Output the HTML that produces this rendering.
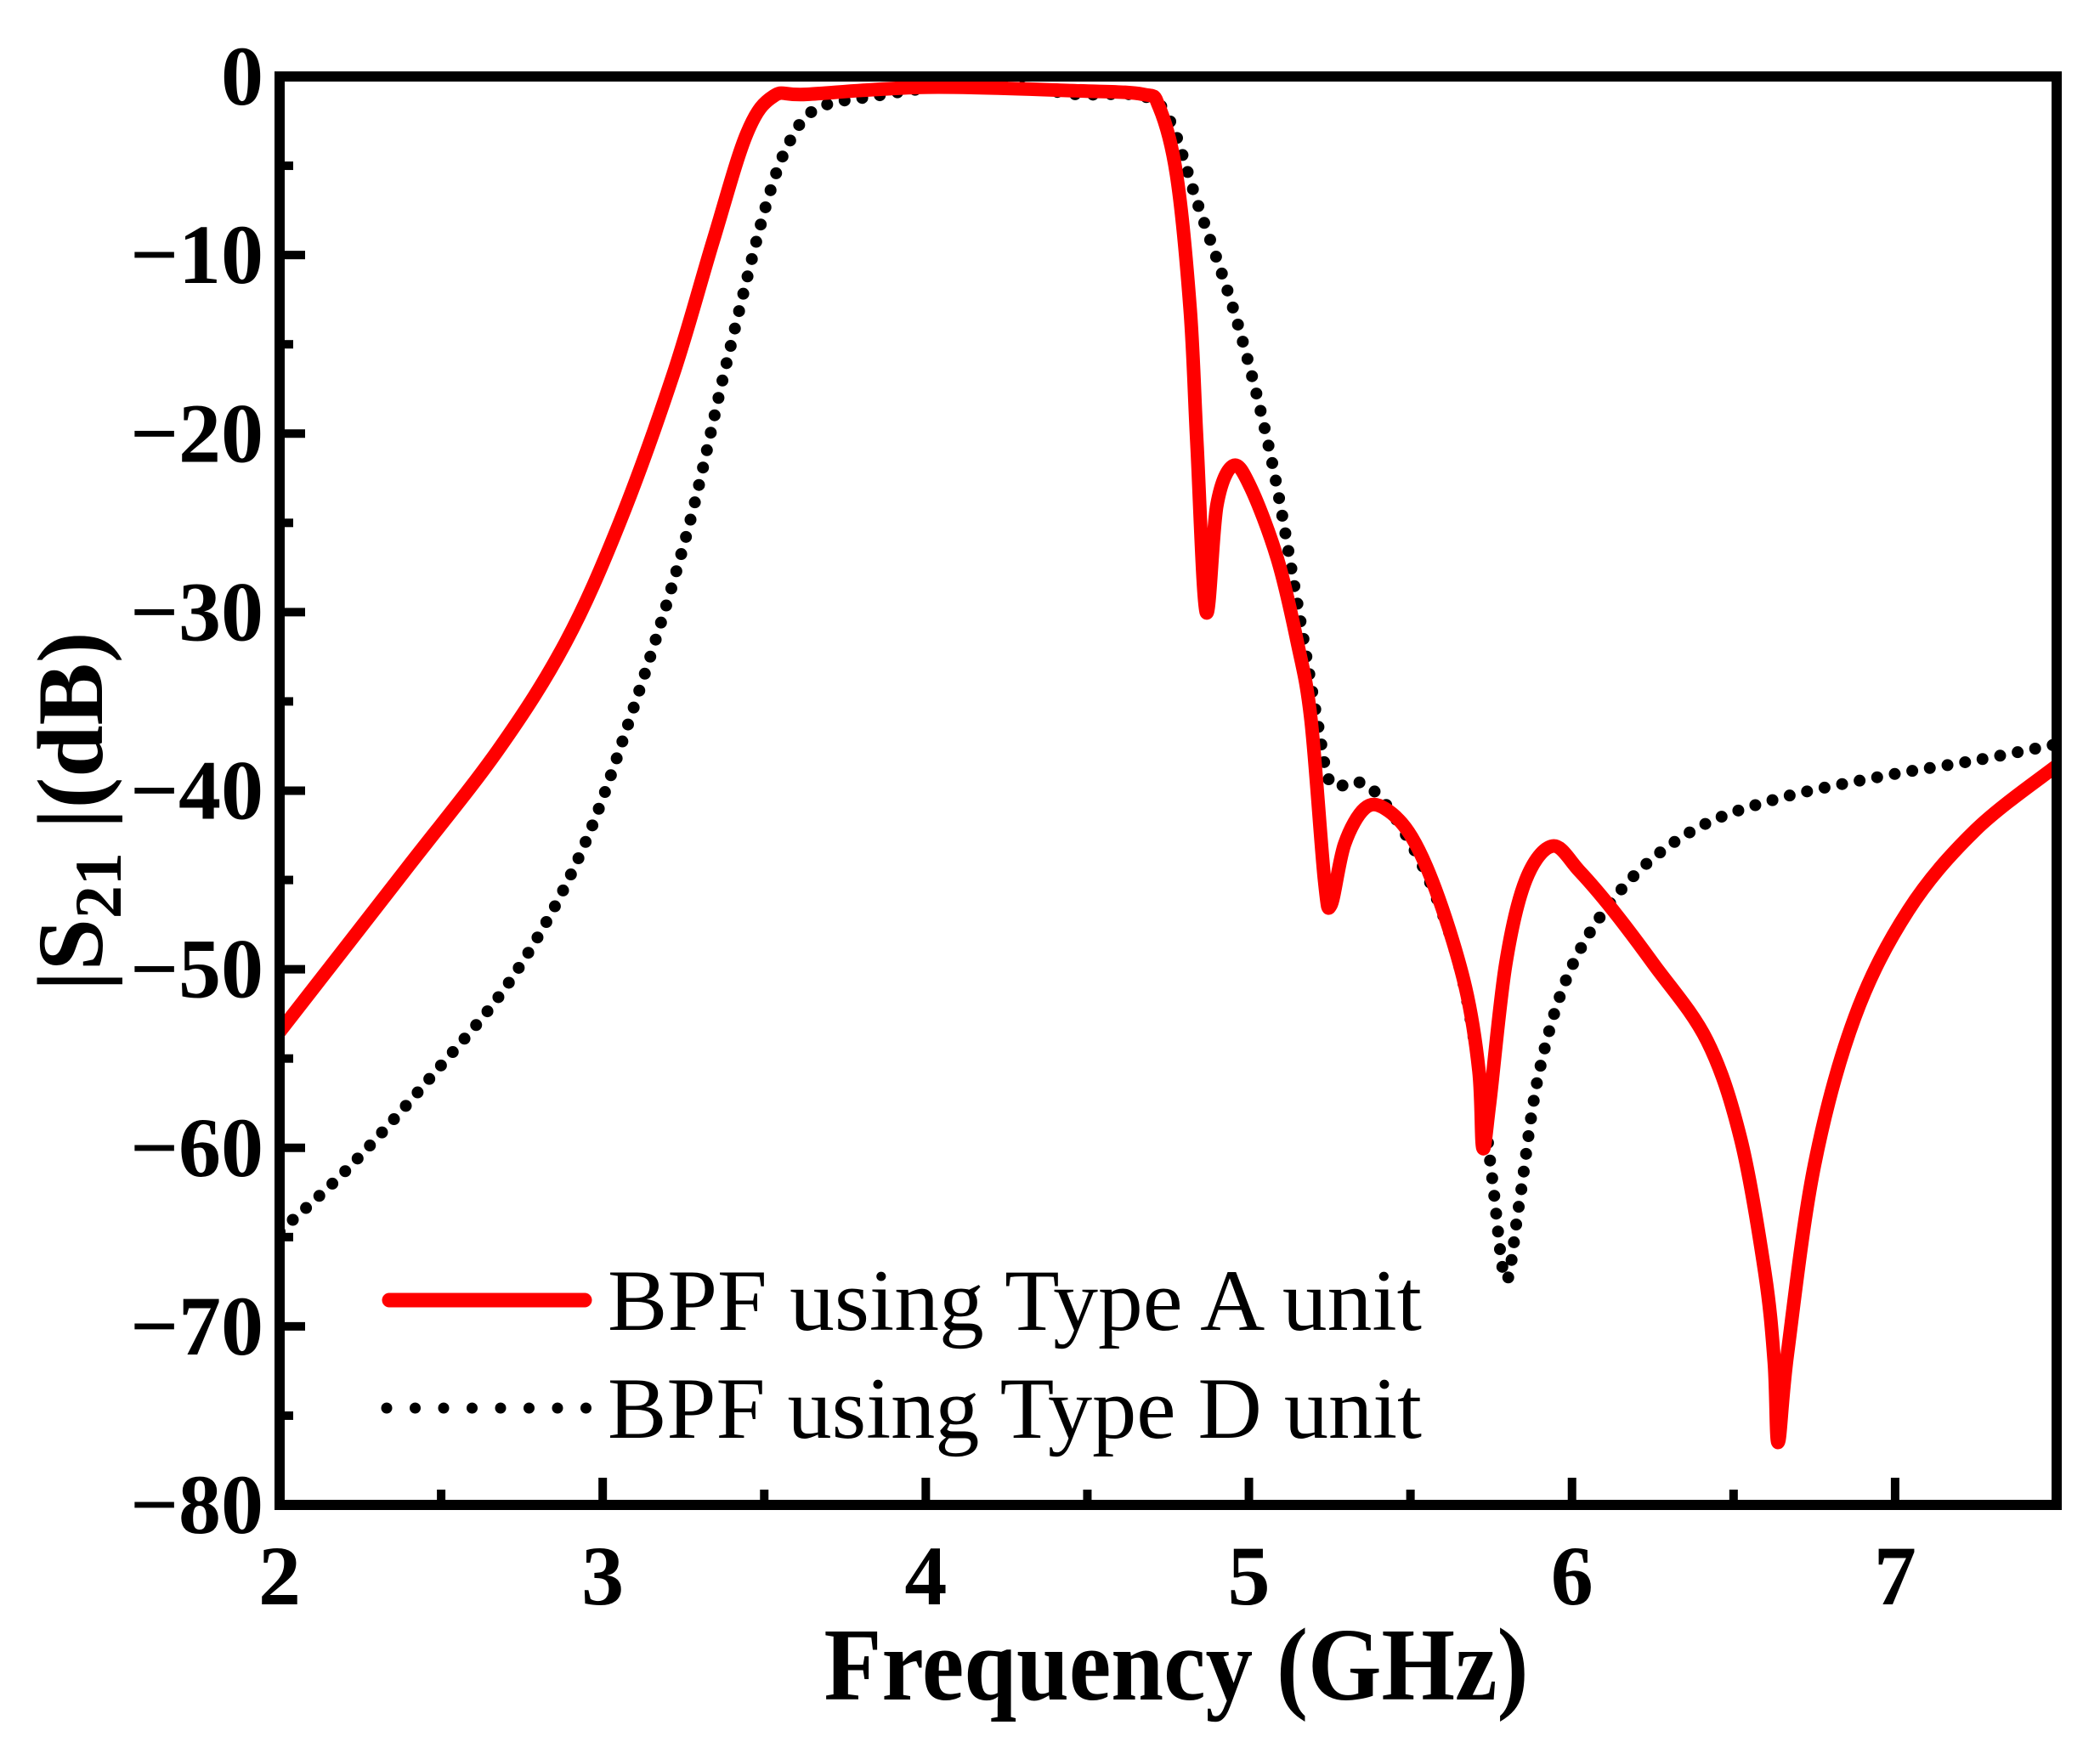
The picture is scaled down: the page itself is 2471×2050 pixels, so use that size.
<!DOCTYPE html>
<html><head><meta charset="utf-8"><style>
html,body{margin:0;padding:0;background:#fff}
svg{display:block}
text{font-family:"Liberation Serif","Times New Roman",serif}
</style></head><body>
<svg id="chart" width="2471" height="2050" viewBox="0 0 2471 2050" xmlns="http://www.w3.org/2000/svg">
<defs><clipPath id="clip"><rect x="329" y="90" width="2091" height="1681"/></clipPath></defs>
<g id="curves" clip-path="url(#clip)"></g>
<g id="axes"></g>
<g id="legend">
  <line x1="458" y1="1530" x2="688" y2="1530" stroke="#ff0000" stroke-width="17" stroke-linecap="round"/>
  <text x="715" y="1565" font-size="103" textLength="958" lengthAdjust="spacingAndGlyphs">BPF using Type A unit</text>
  <line x1="455" y1="1657" x2="690" y2="1657" stroke="#000" stroke-width="13" stroke-linecap="round" stroke-dasharray="0 33.5"/>
  <text x="715" y="1692" font-size="103" textLength="958" lengthAdjust="spacingAndGlyphs">BPF using Type D unit</text>
</g>
<text x="1384" y="2000" font-size="122" font-weight="bold" text-anchor="middle" textLength="829" lengthAdjust="spacingAndGlyphs">Frequency (GHz)</text>
<text transform="translate(120,955) rotate(-90)" font-size="110" font-weight="bold" text-anchor="middle">|S<tspan font-size="78" dy="22">21</tspan><tspan dy="-22"> |(dB)</tspan></text>
</svg>
<script>
const xTicks = [2,3,4,5,6,7];
const yTicks = [0,-10,-20,-30,-40,-50,-60,-70,-80];
const xTickLabels = ["2","3","4","5","6","7"];
const yTickLabels = ["0","\u221210","\u221220","\u221230","\u221240","\u221250","\u221260","\u221270","\u221280"];
const freqA = [2.0,2.387,2.677,2.885,3.052,3.218,3.342,3.446,3.529,3.633,4.007,4.465,4.672,4.722,4.776,4.818,4.839,4.868,4.901,4.951,5.005,5.088,5.150,5.192,5.234,5.254,5.296,5.358,5.421,5.504,5.587,5.670,5.712,5.724,5.745,5.795,5.857,5.940,6.023,6.127,6.252,6.418,6.522,6.597,6.626,6.638,6.667,6.750,6.875,7.041,7.249,7.5];
const s21A = [-53.5,-44.5,-37.7,-31.7,-25,-16.7,-9.2,-3.2,-1.1,-1,-0.6,-0.8,-1,-1.7,-5.5,-13,-20.5,-30,-24,-21.8,-23,-27,-31.7,-36,-45,-46.4,-43,-41,-41,-42.6,-46,-51,-55.7,-60,-57.5,-49.7,-45,-43.1,-44.5,-46.7,-49.7,-54,-59.5,-67,-72,-76.5,-71.5,-61,-52.7,-46.7,-42.2,-38.6];
const freqD = [2.0,2.220,2.470,2.719,2.927,3.093,3.259,3.384,3.509,3.592,3.675,3.841,4.049,4.298,4.465,4.672,4.756,4.839,4.963,5.067,5.150,5.213,5.254,5.337,5.421,5.545,5.649,5.712,5.753,5.795,5.836,5.899,6.003,6.169,6.377,6.626,6.958,7.249,7.5];
const s21D = [-64.7,-61,-56,-50.5,-43.7,-35.5,-25.7,-16,-7,-3.2,-1.7,-1.1,-0.6,-0.6,-1,-1.1,-2.5,-7,-13.7,-21.2,-29.5,-36.2,-39.6,-39.5,-40.7,-44.5,-49.7,-55.7,-61.7,-67.4,-63.2,-55.7,-49.7,-45.2,-42.2,-40.5,-39.2,-38.3,-37.4];

const X0=329,X1=2420,Y0=90,Y1=1771;
const xMin=2,xMax=7.5,yMin=-80,yMax=0;
const sx=v=>X0+(v-xMin)/(xMax-xMin)*(X1-X0);
const sy=v=>Y0+(yMax-v)/(yMax-yMin)*(Y1-Y0);
const NS="http://www.w3.org/2000/svg";
function mk(t,a,p){const e=document.createElementNS(NS,t);for(const k in a)e.setAttribute(k,a[k]);p.appendChild(e);return e;}
function pathD(xs,ys){
  const p=xs.map((x,i)=>[sx(x),sy(ys[i])]);
  let d="M"+p[0][0]+","+p[0][1];
  for(let i=0;i<p.length-1;i++){
    const a=p[i-1]||p[i],b=p[i],c=p[i+1],e=p[i+2]||c;
    const c1=[b[0]+(c[0]-a[0])/6,b[1]+(c[1]-a[1])/6];
    const c2=[c[0]-(e[0]-b[0])/6,c[1]-(e[1]-b[1])/6];
    d+=" C"+c1[0]+","+c1[1]+" "+c2[0]+","+c2[1]+" "+c[0]+","+c[1];
  }
  return d;
}
const curves=document.getElementById('curves');
const pD=mk('path',{d:pathD(freqD,s21D),fill:'none',stroke:'#000','stroke-width':14,'stroke-linecap':'round','stroke-dasharray':'0 21'},curves);


const pA=mk('path',{d:pathD(freqA,s21A),fill:'none',stroke:'#ff0000','stroke-width':16,'stroke-linejoin':'round'},curves);



const axes=document.getElementById('axes');
const frame=mk('rect',{x:X0,y:Y0,width:X1-X0,height:Y1-Y0,fill:'none',stroke:'#000','stroke-width':12},axes);


for(let v=2.5;v<7.5;v+=1){
  const t=mk('line',{x1:sx(v),x2:sx(v),y1:Y1,y2:Y1-18,stroke:'#000','stroke-width':10},axes);
  
  
}
xTicks.forEach((v,i)=>{
  const t=mk('line',{x1:sx(v),x2:sx(v),y1:Y1,y2:Y1-32,stroke:'#000','stroke-width':10},axes);
  
  
  const l=mk('text',{x:sx(v),y:1888,'font-size':100,'font-weight':'bold','text-anchor':'middle'},axes);
  l.textContent=xTickLabels[i];
  
  
});
for(let v=-5;v>-80;v-=10){
  const t=mk('line',{x1:X0,x2:X0+16,y1:sy(v),y2:sy(v),stroke:'#000','stroke-width':10},axes);
  
  
}
yTicks.forEach((v,i)=>{
  const t=mk('line',{x1:X0,x2:X0+30,y1:sy(v),y2:sy(v),stroke:'#000','stroke-width':10},axes);
  
  
  const l=mk('text',{x:310,y:sy(v)+33,'font-size':100,'font-weight':'bold','text-anchor':'end'},axes);
  l.textContent=yTickLabels[i];
  
  
});
</script>
</body></html>
